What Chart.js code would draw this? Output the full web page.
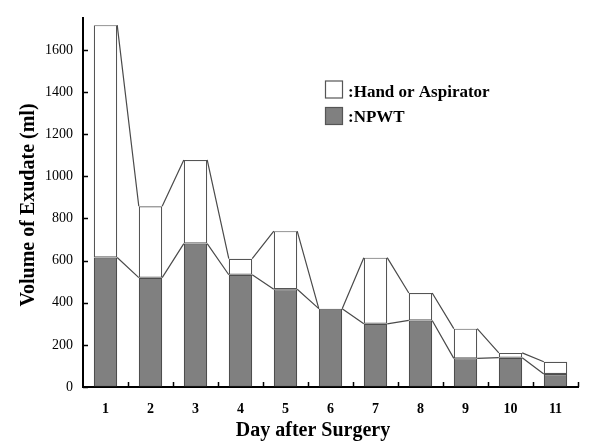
<!DOCTYPE html>
<html><head><meta charset="utf-8">
<script src="https://cdn.jsdelivr.net/npm/chart.js@4/dist/chart.umd.min.js"></script>
<style>html,body{margin:0;padding:0;background:#fff;} #c{display:block;}</style>
</head><body>
<canvas id="c" width="608" height="443"></canvas>
<script>
const days = ['1','2','3','4','5','6','7','8','9','10','11'];
const npwt = [615, 519, 681, 533, 464, 372, 300, 316, 136, 139, 62];
const handOrAspirator = [1103, 339, 397, 76, 276, 0, 314, 130, 141, 23, 58];
const yTicks = [0, 200, 400, 600, 800, 1000, 1200, 1400, 1600];
const legendLabels = [':Hand or Aspirator', ':NPWT'];
const xTitle = 'Day after Surgery';
const yTitle = 'Volume of Exudate (ml)';
const SERIF = '"Liberation Serif", "Times New Roman", serif';

const connectors = {
  id: 'connectors',
  afterDatasetsDraw(chart) {
    const ctx = chart.ctx;
    ctx.save();
    ctx.strokeStyle = '#4a4a4a';
    ctx.lineWidth = 1.2;
    chart.data.datasets.forEach((ds, di) => {
      const bars = chart.getDatasetMeta(di).data;
      ctx.beginPath();
      for (let i = 0; i < bars.length - 1; i++) {
        const a = bars[i].getProps(['x', 'y', 'width'], true);
        const b = bars[i + 1].getProps(['x', 'y', 'width'], true);
        ctx.moveTo(a.x + a.width / 2, a.y);
        ctx.lineTo(b.x - b.width / 2, b.y);
      }
      ctx.stroke();
    });
    ctx.restore();
  }
};

const decorations = {
  id: 'decorations',
  afterDraw(chart) {
    const ctx = chart.ctx;
    const xs = chart.scales.x, ys = chart.scales.y;
    const area = chart.chartArea;
    ctx.save();
    // inner ticks
    ctx.strokeStyle = '#000';
    ctx.lineWidth = 1.5;
    ctx.beginPath();
    yTicks.forEach(v => {
      const y = Math.round(ys.getPixelForValue(v)) + 0.5;
      ctx.moveTo(area.left, y);
      ctx.lineTo(area.left + 5, y);
    });
    for (let i = 0; i < days.length; i++) {
      const x = Math.round((xs.getPixelForValue(i) + (i + 1 < days.length ? xs.getPixelForValue(i + 1) : 2 * xs.getPixelForValue(i) - xs.getPixelForValue(i - 1))) / 2) + 0.5;
      ctx.moveTo(x, area.bottom);
      ctx.lineTo(x, area.bottom - 5);
    }
    ctx.stroke();
    // axis titles
    ctx.fillStyle = '#000';
    ctx.font = 'bold 20px ' + SERIF;
    ctx.textAlign = 'center';
    ctx.textBaseline = 'alphabetic';
    ctx.fillText(xTitle, 313, 436);
    ctx.save();
    ctx.translate(34, 205);
    ctx.rotate(-Math.PI / 2);
    ctx.fillText(yTitle, 0, 0);
    ctx.restore();
    // legend
    const fills = ['#ffffff', '#808080'];
    const boxY = [81, 107.5];
    const txtY = [97, 122];
    ctx.font = 'bold 17px ' + SERIF;
    ctx.textAlign = 'left';
    for (let k = 0; k < 2; k++) {
      ctx.fillStyle = fills[k];
      ctx.fillRect(325.5, boxY[k], 17, 17);
      ctx.strokeStyle = '#555';
      ctx.lineWidth = 1.2;
      ctx.strokeRect(325.5, boxY[k], 17, 17);
      ctx.fillStyle = '#000';
      ctx.fillText(legendLabels[k], 348, txtY[k]);
    }
    ctx.restore();
  }
};

new Chart(document.getElementById('c'), {
  type: 'bar',
  data: {
    labels: days,
    datasets: [
      { label: 'NPWT', data: npwt, backgroundColor: '#808080', borderColor: '#4d4d4d', borderWidth: 1.2, borderSkipped: false, barPercentage: 0.52, categoryPercentage: 1 },
      { label: 'Hand or Aspirator', data: handOrAspirator, backgroundColor: '#ffffff', borderColor: '#555555', borderWidth: 1.2, borderSkipped: false, barPercentage: 0.52, categoryPercentage: 1 }
    ]
  },
  options: {
    responsive: false,
    animation: false,
    layout: { padding: { top: 9, right: 30, left: 0, bottom: 0 } },
    plugins: { legend: { display: false }, tooltip: { enabled: false } },
    scales: {
      x: {
        stacked: true,
        offset: true,
        grid: { display: true, drawOnChartArea: false, drawTicks: false },
        border: { display: true, color: '#000', width: 2 },
        ticks: { color: '#000', padding: 14, font: { family: SERIF, size: 14, weight: 'bold' } },
        afterFit(s) { s.height = 56; }
      },
      y: {
        stacked: true,
        min: 0,
        max: 1750,
        afterBuildTicks(s) { s.ticks = yTicks.map(v => ({ value: v })); },
        grid: { display: true, drawOnChartArea: false, drawTicks: false },
        border: { display: true, color: '#000', width: 2 },
        ticks: { color: '#000', padding: 10, font: { family: SERIF, size: 14, weight: 'normal' }, callback: v => String(v) },
        afterFit(s) { s.width = 83; }
      }
    }
  },
  plugins: [connectors, decorations]
});
</script>
</body></html>
